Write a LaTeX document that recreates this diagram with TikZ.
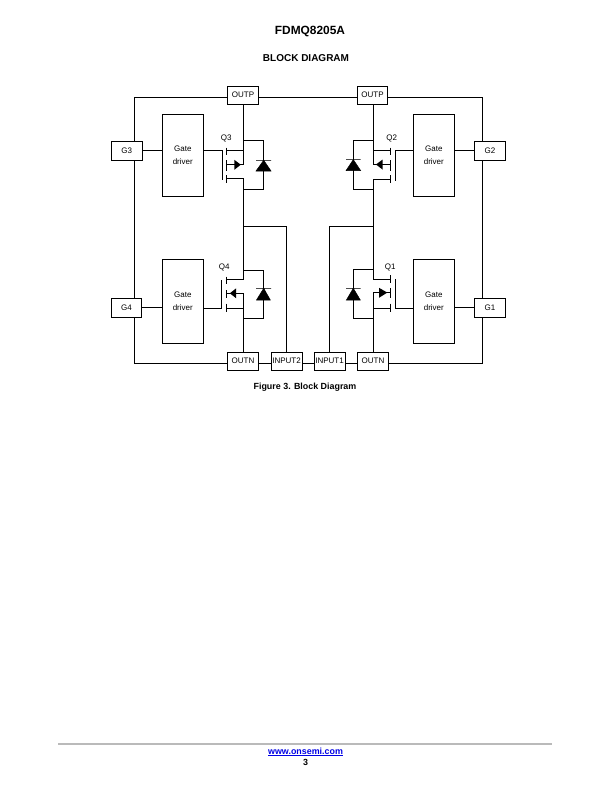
\documentclass[tikz,border=0pt]{standalone}
\usepackage{fontspec}
\setmainfont{Liberation Sans}
\usepackage{xcolor}
\definecolor{linkblue}{rgb}{0,0,.9}
\tikzset{
  pin/.style={draw,fill=white,inner sep=0pt,minimum height=18.4pt,font=\fontsize{8}{9.6}\selectfont},
  drv/.style={draw,fill=white,inner sep=0pt,minimum width=41pt,align=center,font=\fontsize{8}{12.4}\selectfont},
  qlab/.style={inner sep=0pt,font=\fontsize{8}{9.6}\selectfont},
  dio/.style={fill=black,line width=.5pt},
}
\begin{document}
\begin{tikzpicture}[x=1pt,y=-1pt,line width=.75pt]
\useasboundingbox (0,0) rectangle (612,792);
\fill[white] (0,0) rectangle (612,792);
% headings
\node[inner sep=0pt,font=\fontsize{11.9}{14}\selectfont\bfseries] (part) at (310,31.3) {FDMQ8205A};
\node[inner sep=0pt,font=\fontsize{10}{12}\selectfont\bfseries] (head) at (306,58) {BLOCK DIAGRAM};
\node[inner sep=0pt,font=\fontsize{8.9}{11}\selectfont\bfseries] (cap) at (305,387.4) {Figure 3. Block Diagram};
% pins
\node[pin,minimum width=31.4pt] (outpl) at (243,95.2) {OUTP};
\node[pin,minimum width=30.6pt] (outpr) at (372.5,95.2) {OUTP};
\node[pin,minimum width=31.6pt] (g3) at (126.8,150.8) {G3};
\node[pin,minimum width=31.6pt] (g2) at (490,150.8) {G2};
\node[pin,minimum width=30.6pt] (g4) at (126.4,307.8) {G4};
\node[pin,minimum width=31.4pt] (g1) at (490,307.8) {G1};
\node[pin,minimum width=31.4pt] (outnl) at (243,361.2) {OUTN};
\node[pin,minimum width=30.8pt] (in2) at (286.6,361.2) {INPUT2};
\node[pin,minimum width=30.8pt] (in1) at (329.6,361.2) {INPUT1};
\node[pin,minimum width=31.4pt] (outnr) at (373,361.2) {OUTN};
% gate drivers
\node[drv,minimum height=82pt] (drv3) at (182.8,155.3) {Gate\\driver};
\node[drv,minimum height=82pt] (drv2) at (433.8,155.3) {Gate\\driver};
\node[drv,minimum height=84pt] (drv4) at (182.8,301.3) {Gate\\driver};
\node[drv,minimum height=84pt] (drv1) at (433.8,301.3) {Gate\\driver};
% outer ring
\coordinate (tl) at (134.5,97.4);
\coordinate (tr) at (482,97.4);
\coordinate (bl) at (134.5,363);
\coordinate (br) at (482,363);
\draw (g3.north -| tl) -- (tl) -- (outpl.west |- tl);
\draw (outpl.east |- tl) -- (outpr.west |- tl);
\draw (outpr.east |- tr) -- (tr) -- (g2.north -| tr);
\draw (g3.south -| tl) -- (g4.north -| tl);
\draw (g2.south -| tr) -- (g1.north -| tr);
\draw (g4.south -| bl) -- (bl) -- (outnl.west |- bl);
\draw (outnl.east |- bl) -- (in2.west |- bl);
\draw (in2.east |- bl) -- (in1.west |- bl);
\draw (in1.east |- bl) -- (outnr.west |- bl);
\draw (outnr.east |- br) -- (br) -- (g1.south -| br);
% pin to driver
\draw (g3.east |- drv3.west) ++(0,-5) coordinate (a3) (a3) -- (a3 -| drv3.west);
\draw (g2.west |- a3) -- (drv2.east |- a3);
\draw (g4.east) -- (g4.east -| drv4.west);
\draw (g1.west) -- (g1.west -| drv1.east);
% Q3
\coordinate (q3gt) at (222.3,150.3);
\coordinate (q3gb) at (222.3,180);
\coordinate (q3d) at (226.7,150.3);
\coordinate (q3m) at (226.7,164.7);
\coordinate (q3s) at (226.7,178.5);
\coordinate (q3bus) at (243.3,104);
\coordinate (q3di) at (263.7,140.3);
\coordinate (q3do) at (263.7,189);
\coordinate (in2j) at (243.3,226.8);
\draw (q3gt -| drv3.east) -- (q3gt) -- (q3gb);
\draw (226.7,147.7) -- (226.7,155) (226.7,160) -- (226.7,170.7) (226.7,175) -- (226.7,183.3);
\draw (q3bus |- outpl.south) -- (q3bus |- q3m) -- (q3m);
\draw (q3d) -- (q3bus |- q3d);
\draw (q3bus |- q3di) -- (q3di) -- (q3do) -- (q3bus |- q3do);
\draw (q3s) -- (q3bus |- q3s) -- (in2j);
\fill (234.3,159.8) -- (240.8,164.7) -- (234.3,169.8) -- cycle;
\draw[dio] (256,160.3) -- (271,160.3) -- (263.7,160.3) -- (271,171) -- (256,171) -- (263.7,160.3);
\node[qlab] (q3lab) at (226.3,138.7) {Q3};
% Q4
\coordinate (q4gt) at (221.7,280);
\coordinate (q4gb) at (221.7,308.3);
\coordinate (q4d) at (226.7,279.3);
\coordinate (q4m) at (226.7,293.3);
\coordinate (q4s) at (226.7,308.3);
\coordinate (q4di) at (263.7,270.3);
\coordinate (q4do) at (263.7,318.7);
\draw (q4gb -| drv4.east) -- (q4gb) -- (q4gt);
\draw (226.7,276.7) -- (226.7,284.3) (226.7,290.3) -- (226.7,298) (226.7,303.7) -- (226.7,311.7);
\draw (in2j) -- (in2j |- q4d) -- (q4d);
\draw (q4m) -- (in2j |- q4m) -- (outnl.north -| in2j);
\draw (q4s) -- (in2j |- q4s);
\draw (in2j |- q4di) -- (q4di) -- (q4do) -- (in2j |- q4do);
\fill (229.8,293.3) -- (236.2,288.3) -- (236.2,298.3) -- cycle;
\draw[dio] (256,288.3) -- (271,288.3) -- (263.7,288.3) -- (270.3,300) -- (256.5,300) -- (263.7,288.3);
\node[qlab] (q4lab) at (224.3,267.2) {Q4};
\draw (in2j) -- (in2j -| in2.north) -- (in2.north);
% Q2
\coordinate (q2gt) at (395,150.3);
\coordinate (q2gb) at (395,180.5);
\coordinate (q2d) at (390,150.3);
\coordinate (q2m) at (390,164.5);
\coordinate (q2s) at (390,179);
\coordinate (q2bus) at (373.3,104);
\coordinate (q2di) at (353.3,140.3);
\coordinate (q2do) at (353.3,189);
\coordinate (in1j) at (373.3,226.8);
\draw (q2gt -| drv2.west) -- (q2gt) -- (q2gb);
\draw (390,147.7) -- (390,155) (390,160) -- (390,170.7) (390,175) -- (390,183.3);
\draw (q2bus |- outpr.south) -- (q2bus |- q2m) -- (q2m);
\draw (q2d) -- (q2bus |- q2d);
\draw (q2bus |- q2di) -- (q2di) -- (q2do) -- (q2bus |- q2do);
\draw (q2s) -- (q2bus |- q2s) -- (in1j);
\fill (376,164.5) -- (382.6,159.5) -- (382.6,169.6) -- cycle;
\draw[dio] (346,159.6) -- (360.7,159.6) -- (353.3,159.6) -- (360.7,170.7) -- (346,170.7) -- (353.3,159.6);
\node[qlab] (q2lab) at (391.7,138.2) {Q2};
% Q1
\coordinate (q1gt) at (395,279.3);
\coordinate (q1gb) at (395,308.3);
\coordinate (q1d) at (390,279.3);
\coordinate (q1m) at (390,292.6);
\coordinate (q1s) at (390,308.3);
\coordinate (q1di) at (353.3,269.5);
\coordinate (q1do) at (353.3,318.7);
\draw (q1gb -| drv1.west) -- (q1gb) -- (q1gt);
\draw (390,275) -- (390,283.3) (390,288.3) -- (390,297.7) (390,303.7) -- (390,311.7);
\draw (in1j) -- (in1j |- q1d) -- (q1d);
\draw (q1m) -- (in1j |- q1m) -- (outnr.north -| in1j);
\draw (q1s) -- (in1j |- q1s);
\draw (in1j |- q1di) -- (q1di) -- (q1do) -- (in1j |- q1do);
\fill (379,287.8) -- (387.3,292.6) -- (379,297.8) -- cycle;
\draw[dio] (346,288.3) -- (360.7,288.3) -- (353.3,288.3) -- (360.3,300) -- (346.4,300) -- (353.3,288.3);
\node[qlab] (q1lab) at (390.3,267.2) {Q1};
\draw (in1j) -- (in1j -| in1.north) -- (in1.north);
% footer
\draw[line width=2pt,black!27] (58,744) -- (552,744);
\node[inner sep=0pt,text=linkblue,font=\fontsize{8.9}{11}\selectfont\bfseries] (web) at (305.5,752) {\underline{www.onsemi.com}};
\node[inner sep=0pt,font=\fontsize{8.9}{11}\selectfont\bfseries] (pg) at (305.5,762) {3};
\end{tikzpicture}
\end{document}
